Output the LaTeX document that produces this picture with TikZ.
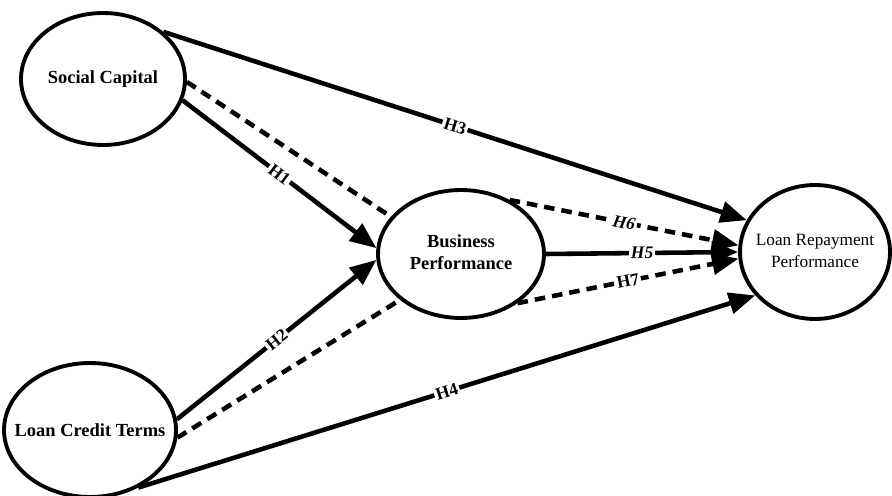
\documentclass[tikz,border=0pt]{standalone}
\usepackage{fontspec}
\setmainfont{Liberation Serif}
\usetikzlibrary{shapes.geometric}
\usetikzlibrary{arrows.meta}

\begin{document}
\begin{tikzpicture}[x=0.02cm, y=-0.02cm,
    construct/.style={draw, ellipse, line width=2.2pt, inner sep=0pt, font=\fontsize{10.5}{12.5}\selectfont\bfseries},
    path/.style={line width=2.6pt, -{Triangle[length=15pt,width=12pt]}},
    mediated/.style={line width=2.6pt, dash pattern=on 6pt off 4pt},
    hyp/.style={midway, sloped, fill=white, inner sep=1pt, font=\fontsize{10}{12}\selectfont\bfseries}]
            \useasboundingbox (0,0) rectangle (892,496);
            % Nodos
            \node[construct, minimum width=3.28cm, minimum height=2.64cm] (sc) at (103,79)
                {\makebox[0pt]{Social Capital}};
            \node[construct, minimum width=3.44cm, minimum height=2.68cm] (lct) at (90,430)
                {\makebox[0pt]{Loan Credit Terms}};
            \node[construct, minimum width=3.32cm, minimum height=2.56cm] (bp) at (461,254)
                {\makebox[0pt]{\begin{tabular}{@{}c@{}}Business\\Performance\end{tabular}}};
            \node[construct, minimum width=3.0cm, minimum height=2.68cm, font=\fontsize{9.8}{12.5}\selectfont] (lrp) at (815,252)
                {\makebox[0pt]{\begin{tabular}{@{}c@{}}Loan Repayment\\Performance\end{tabular}}};

            % Aristas
            \draw[path] (sc.38) -- (lrp.155) node[hyp] {H3};
            \draw[path] (sc.-15) -- (bp.176) node[hyp] {H1};
            \draw[path] (lct.7) -- (bp.184) node[hyp] {H2};
            \draw[path] (lct.-50) -- (lrp.216) node[hyp] {H4};
            \draw[path] (bp.0) -- (lrp.180) node[hyp] {\itshape H5};
            \draw[mediated] (sc.-2) -- (bp.152);
            \draw[mediated] (lct.-5) -- (bp.217);
            \draw[mediated, -{Triangle[length=15pt,width=12pt]}] (bp.48) -- (lrp.175) node[hyp] {\itshape H6};
            \draw[mediated, -{Triangle[length=15pt,width=12pt]}] (bp.-41) -- (lrp.185) node[hyp] {H7};
          \end{tikzpicture}
\end{document}
